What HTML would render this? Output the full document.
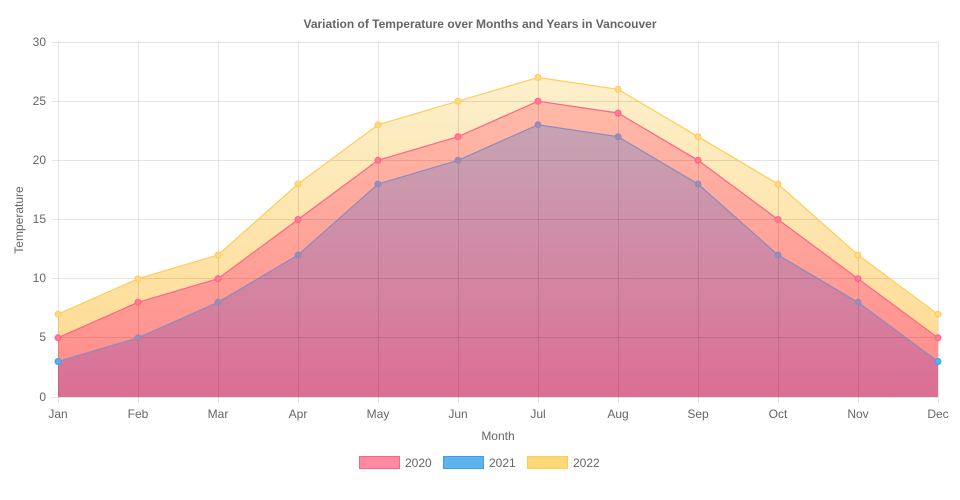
<!DOCTYPE html>
<html><head><meta charset="utf-8"><style>
body{margin:0;background:#fff;}
svg{display:block;font-family:"Liberation Sans",sans-serif;}
</style></head><body>
<svg width="960" height="500" viewBox="0 0 960 500">
<defs>
<linearGradient id="gy" gradientUnits="userSpaceOnUse" x1="0" y1="78" x2="0" y2="397"><stop offset="0" stop-color="#fdf0cc"/><stop offset="1" stop-color="#fed88a"/></linearGradient>
<linearGradient id="gr" gradientUnits="userSpaceOnUse" x1="0" y1="101" x2="0" y2="397"><stop offset="0" stop-color="#ffbaa8"/><stop offset="1" stop-color="#ff8a8a"/></linearGradient>
<linearGradient id="gb" gradientUnits="userSpaceOnUse" x1="0" y1="125" x2="0" y2="397"><stop offset="0" stop-color="#c6a4b4"/><stop offset="1" stop-color="#dc6e94"/></linearGradient>
</defs>
<text x="480" y="28" text-anchor="middle" font-size="12" font-weight="bold" fill="#666">Variation of Temperature over Months and Years in Vancouver</text>
<!-- areas -->
<polygon fill="url(#gy)" points="58,397 58,314.2 138,278.7 218,255 298,184 378,124.8 458,101.2 538,77.5 618,89.3 698,136.7 778,184 858,255 938,314.2 938,397"/>
<polygon fill="url(#gr)" points="58,397 58,337.8 138,302.3 218,278.7 298,219.5 378,160.3 458,136.7 538,101.2 618,113 698,160.3 778,219.5 858,278.7 938,337.8 938,397"/>
<polygon fill="url(#gb)" points="58,397 58,361.5 138,337.8 218,302.3 298,255 378,184 458,160.3 538,124.8 618,136.7 698,184 778,255 858,302.3 938,361.5 938,397"/>
<!-- grid -->
<g stroke="rgba(0,0,0,0.1)" stroke-width="1">
<line x1="52" y1="42.5" x2="938" y2="42.5"/><line x1="52" y1="101.5" x2="938" y2="101.5"/><line x1="52" y1="160.5" x2="938" y2="160.5"/><line x1="52" y1="219.5" x2="938" y2="219.5"/><line x1="52" y1="278.5" x2="938" y2="278.5"/><line x1="52" y1="337.5" x2="938" y2="337.5"/><line x1="52" y1="397.5" x2="938" y2="397.5"/>
<line x1="58.5" y1="42" x2="58.5" y2="403"/><line x1="138.5" y1="42" x2="138.5" y2="403"/><line x1="218.5" y1="42" x2="218.5" y2="403"/><line x1="298.5" y1="42" x2="298.5" y2="403"/><line x1="378.5" y1="42" x2="378.5" y2="403"/><line x1="458.5" y1="42" x2="458.5" y2="403"/><line x1="538.5" y1="42" x2="538.5" y2="403"/><line x1="618.5" y1="42" x2="618.5" y2="403"/><line x1="698.5" y1="42" x2="698.5" y2="403"/><line x1="778.5" y1="42" x2="778.5" y2="403"/><line x1="858.5" y1="42" x2="858.5" y2="403"/><line x1="938.5" y1="42" x2="938.5" y2="403"/>
</g>
<!-- lines -->
<polyline fill="none" stroke="#ffcd56" stroke-width="1.2" points="58,314.2 138,278.7 218,255 298,184 378,124.8 458,101.2 538,77.5 618,89.3 698,136.7 778,184 858,255 938,314.2"/>
<polyline fill="none" stroke="#ff6384" stroke-width="1.2" points="58,337.8 138,302.3 218,278.7 298,219.5 378,160.3 458,136.7 538,101.2 618,113 698,160.3 778,219.5 858,278.7 938,337.8"/>
<polyline fill="none" stroke="#8c8cbc" stroke-width="1.2" points="58,361.5 138,337.8 218,302.3 298,255 378,184 458,160.3 538,124.8 618,136.7 698,184 778,255 858,302.3 938,361.5"/>
<g fill="#ffd98a" stroke="#ffcd56" stroke-width="1">
<circle cx="58" cy="314.2" r="3"/><circle cx="138" cy="278.7" r="3"/><circle cx="218" cy="255" r="3"/><circle cx="298" cy="184" r="3"/><circle cx="378" cy="124.8" r="3"/><circle cx="458" cy="101.2" r="3"/><circle cx="538" cy="77.5" r="3"/><circle cx="618" cy="89.3" r="3"/><circle cx="698" cy="136.7" r="3"/><circle cx="778" cy="184" r="3"/><circle cx="858" cy="255" r="3"/><circle cx="938" cy="314.2" r="3"/>
</g>
<g fill="#ff7a95" stroke="#ff6384" stroke-width="1">
<circle cx="58" cy="337.8" r="3"/><circle cx="138" cy="302.3" r="3"/><circle cx="218" cy="278.7" r="3"/><circle cx="298" cy="219.5" r="3"/><circle cx="378" cy="160.3" r="3"/><circle cx="458" cy="136.7" r="3"/><circle cx="538" cy="101.2" r="3"/><circle cx="618" cy="113" r="3"/><circle cx="698" cy="160.3" r="3"/><circle cx="778" cy="219.5" r="3"/><circle cx="858" cy="278.7" r="3"/><circle cx="938" cy="337.8" r="3"/>
</g>
<g fill="#a08ab4" stroke="#8c8cbc" stroke-width="1">
<circle cx="58" cy="361.5" r="3" fill="#5eaee8" stroke="#36a2eb"/><circle cx="138" cy="337.8" r="3"/><circle cx="218" cy="302.3" r="3"/><circle cx="298" cy="255" r="3"/><circle cx="378" cy="184" r="3"/><circle cx="458" cy="160.3" r="3"/><circle cx="538" cy="124.8" r="3"/><circle cx="618" cy="136.7" r="3"/><circle cx="698" cy="184" r="3"/><circle cx="778" cy="255" r="3"/><circle cx="858" cy="302.3" r="3"/><circle cx="938" cy="361.5" r="3" fill="#5eaee8" stroke="#36a2eb"/>
</g>
<!-- y labels -->
<g font-size="12" fill="#666" text-anchor="end">
<text x="46" y="46">30</text><text x="46" y="105">25</text><text x="46" y="164">20</text><text x="46" y="223">15</text><text x="46" y="282">10</text><text x="46" y="341">5</text><text x="46" y="401">0</text>
</g>
<g font-size="12" fill="#666" text-anchor="middle">
<text x="58" y="418">Jan</text><text x="138" y="418">Feb</text><text x="218" y="418">Mar</text><text x="298" y="418">Apr</text><text x="378" y="418">May</text><text x="458" y="418">Jun</text><text x="538" y="418">Jul</text><text x="618" y="418">Aug</text><text x="698" y="418">Sep</text><text x="778" y="418">Oct</text><text x="858" y="418">Nov</text><text x="938" y="418">Dec</text>
<text x="498" y="440">Month</text>
<text transform="translate(23,220) rotate(-90)">Temperature</text>
</g>
<!-- legend -->
<rect x="359.5" y="456.5" width="40" height="12" fill="#ff8aa2" stroke="#ff6384"/>
<text x="405" y="467" font-size="12" fill="#666">2020</text>
<rect x="443.5" y="456.5" width="40" height="12" fill="#5eb3ee" stroke="#36a2eb"/>
<text x="489" y="467" font-size="12" fill="#666">2021</text>
<rect x="527.5" y="456.5" width="40" height="12" fill="#ffd877" stroke="#ffcd56"/>
<text x="573" y="467" font-size="12" fill="#666">2022</text>
</svg>
</body></html>
